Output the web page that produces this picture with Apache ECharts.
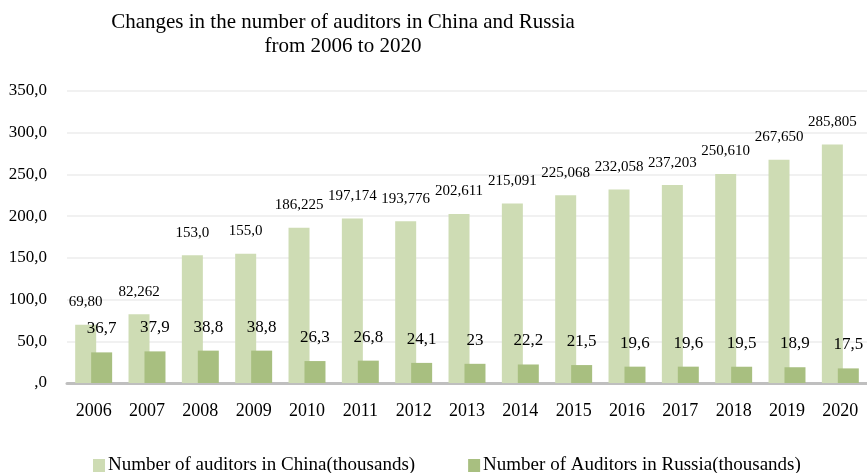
<!DOCTYPE html>
<html>
<head>
<meta charset="utf-8">
<script src="https://cdn.jsdelivr.net/npm/echarts@6/dist/echarts.min.js"></script>
<style>
  html, body { margin: 0; padding: 0; background: #ffffff; }
  #chart { width: 867px; height: 473px; }
</style>
</head>
<body>
<div id="chart"></div>
<script>
// Auditor counts, thousands
const years = ['2006','2007','2008','2009','2010','2011','2012','2013','2014','2015','2016','2017','2018','2019','2020'];
const chinaValues = [69.80, 82.262, 153.0, 155.0, 186.225, 197.174, 193.776, 202.611, 215.091, 225.068, 232.058, 237.203, 250.610, 267.650, 285.805];
const chinaLabels = ['69,80','82,262','153,0','155,0','186,225','197,174','193,776','202,611','215,091','225,068','232,058','237,203','250,610','267,650','285,805'];
const russiaValues = [36.7, 37.9, 38.8, 38.8, 26.3, 26.8, 24.1, 23, 22.2, 21.5, 19.6, 19.6, 19.5, 18.9, 17.5];
const russiaLabels = ['36,7','37,9','38,8','38,8','26,3','26,8','24,1','23','22,2','21,5','19,6','19,6','19,5','18,9','17,5'];
const seriesNames = ['Number of auditors in China(thousands)', 'Number of Auditors in Russia(thousands)'];

const serif = '"Liberation Serif", "DejaVu Serif", serif';
const chart = echarts.init(document.getElementById('chart'));

chart.setOption({
  animation: false,
  title: {
    text: 'Changes in the number of auditors in China and Russia\nfrom 2006 to 2020',
    left: 338,
    top: 5,
    textAlign: 'center',
    textStyle: { fontFamily: serif, fontSize: 21, fontWeight: 'normal', color: '#000', lineHeight: 24 }
  },
  legend: {
    top: 451,
    left: 88,
    itemWidth: 12,
    itemHeight: 13,
    itemGap: 53,
    icon: 'rect',
    textStyle: { fontFamily: serif, fontSize: 19, color: '#000', padding: [0, 0, 0, -2] },
    data: seriesNames
  },
  grid: { left: 67, right: 0, top: 91, bottom: 90 },
  xAxis: {
    type: 'category',
    data: years,
    axisLine: { lineStyle: { color: '#bfbfbf', width: 3 } },
    axisTick: { show: false },
    axisLabel: { fontFamily: serif, fontSize: 18, color: '#000', margin: 19 }
  },
  yAxis: {
    type: 'value',
    min: 0,
    max: 350,
    interval: 50,
    axisLine: { show: false },
    axisTick: { show: false },
    splitLine: { lineStyle: { color: '#ececec', width: 1.5 } },
    axisLabel: {
      fontFamily: serif, fontSize: 17, color: '#000', margin: 20,
      formatter: v => v === 0 ? ',0' : v.toFixed(1).replace('.', ',')
    }
  },
  series: [
    {
      name: seriesNames[0],
      type: 'bar',
      data: chinaValues,
      barWidth: 21,
      barGap: '-24%',
      itemStyle: { color: '#cedcb4' },
      label: {
        show: true, position: 'top', distance: 15,
        fontFamily: serif, fontSize: 15, color: '#000',
        formatter: p => chinaLabels[p.dataIndex]
      }
    },
    {
      name: seriesNames[1],
      type: 'bar',
      data: russiaValues,
      barWidth: 21,
      itemStyle: { color: '#a8bf80' },
      label: {
        show: true, position: 'top', distance: 15,
        fontFamily: serif, fontSize: 17, color: '#000',
        formatter: p => russiaLabels[p.dataIndex]
      }
    }
  ]
});
</script>
</body>
</html>
